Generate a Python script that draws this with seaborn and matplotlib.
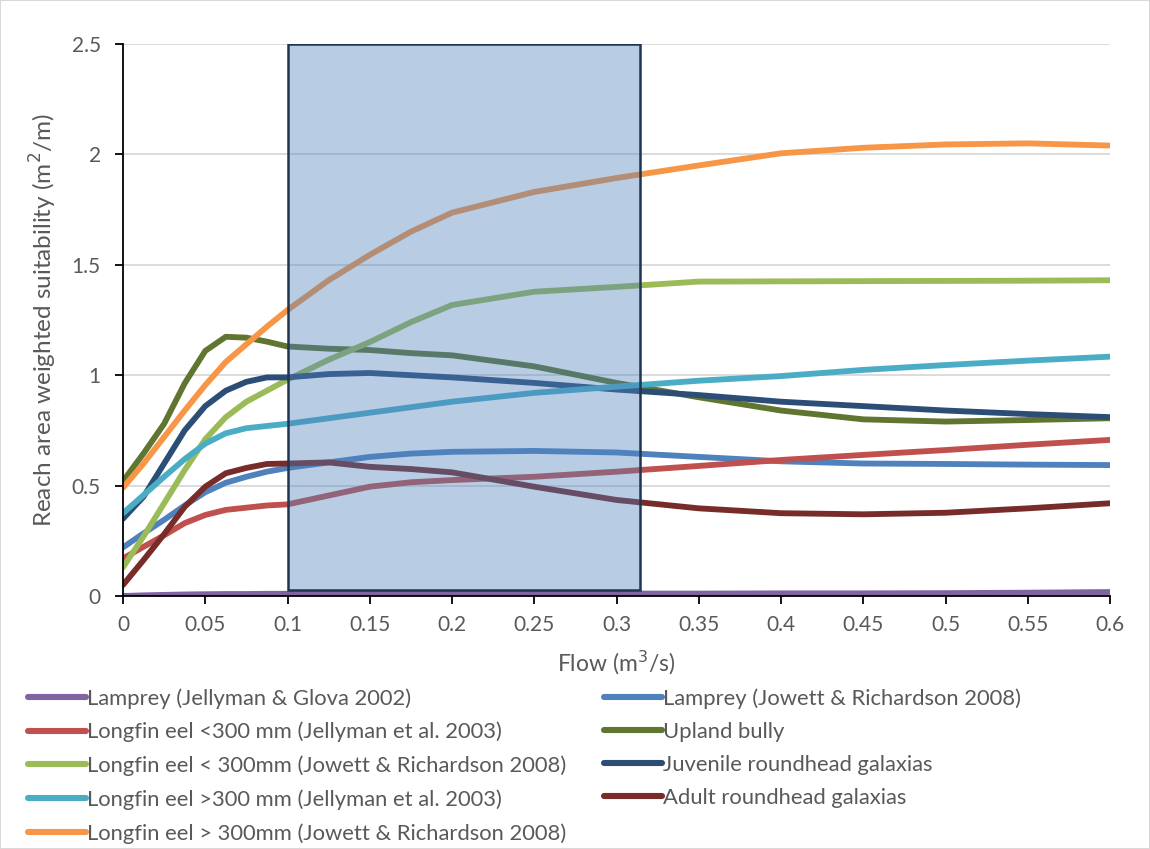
import matplotlib
matplotlib.use("Agg")
import matplotlib.pyplot as plt
import seaborn as sns
import numpy as np
import pandas as pd
from matplotlib.patches import Rectangle

# ---------------- data ----------------
flow = [0, 0.0125, 0.025, 0.0375, 0.05, 0.0625, 0.075, 0.0875, 0.1, 0.125, 0.15, 0.175,
        0.2, 0.25, 0.3, 0.35, 0.4, 0.45, 0.5, 0.55, 0.6]

lamprey_jg     = [0.00, 0.003, 0.005, 0.007, 0.008, 0.009, 0.009, 0.010, 0.010, 0.010, 0.010, 0.010,
                  0.010, 0.010, 0.011, 0.011, 0.012, 0.012, 0.013, 0.015, 0.018]
lamprey_jr     = [0.22, 0.284, 0.345, 0.41, 0.47, 0.513, 0.54, 0.563, 0.58, 0.605, 0.63, 0.645,
                  0.653, 0.657, 0.65, 0.63, 0.61, 0.60, 0.598, 0.595, 0.593]
longfin_lt_jel = [0.17, 0.223, 0.275, 0.33, 0.367, 0.39, 0.40, 0.41, 0.415, 0.455, 0.495, 0.515,
                  0.525, 0.54, 0.563, 0.589, 0.616, 0.639, 0.661, 0.685, 0.707]
upland_bully   = [0.52, 0.646, 0.78, 0.963, 1.11, 1.174, 1.17, 1.152, 1.13, 1.12, 1.114, 1.10,
                  1.09, 1.04, 0.965, 0.90, 0.84, 0.80, 0.79, 0.797, 0.805]
longfin_lt_jr  = [0.13, 0.27, 0.42, 0.57, 0.71, 0.81, 0.88, 0.93, 0.98, 1.07, 1.15, 1.24,
                  1.318, 1.378, 1.40, 1.424, 1.425, 1.426, 1.427, 1.428, 1.43]
juvenile_rg    = [0.35, 0.45, 0.60, 0.75, 0.86, 0.93, 0.97, 0.99, 0.99, 1.005, 1.01, 1.00,
                  0.99, 0.965, 0.935, 0.91, 0.88, 0.86, 0.84, 0.824, 0.81]
longfin_gt_jel = [0.375, 0.457, 0.54, 0.62, 0.69, 0.737, 0.76, 0.77, 0.78, 0.805, 0.83, 0.855,
                  0.88, 0.92, 0.948, 0.975, 0.996, 1.024, 1.046, 1.066, 1.084]
adult_rg       = [0.05, 0.163, 0.28, 0.404, 0.495, 0.556, 0.58, 0.598, 0.60, 0.605, 0.585, 0.575,
                  0.56, 0.495, 0.435, 0.397, 0.375, 0.37, 0.377, 0.397, 0.42]
longfin_gt_jr  = [0.49, 0.60, 0.72, 0.84, 0.955, 1.06, 1.14, 1.22, 1.295, 1.43, 1.545, 1.65,
                  1.736, 1.83, 1.893, 1.95, 2.005, 2.03, 2.045, 2.05, 2.04]

series_names = [
    "Lamprey (Jellyman & Glova 2002)",
    "Lamprey (Jowett & Richardson 2008)",
    "Longfin eel <300 mm (Jellyman et al. 2003)",
    "Upland bully",
    "Longfin eel < 300mm (Jowett & Richardson 2008)",
    "Juvenile roundhead galaxias",
    "Longfin eel >300 mm (Jellyman et al. 2003)",
    "Adult roundhead galaxias",
    "Longfin eel > 300mm (Jowett & Richardson 2008)",
]
series_values = [lamprey_jg, lamprey_jr, longfin_lt_jel, upland_bully, longfin_lt_jr,
                 juvenile_rg, longfin_gt_jel, adult_rg, longfin_gt_jr]
series_colors = ["#8064A2", "#4F81BD", "#C0504D", "#5F7530", "#9BBB59",
                 "#2C4D75", "#4BACC6", "#772C2A", "#F79646"]

# highlighted flow range
band_x = [0.1, 0.314]
band_y = [0.025, 2.5]

x_ticks = [0, 0.05, 0.1, 0.15, 0.2, 0.25, 0.3, 0.35, 0.4, 0.45, 0.5, 0.55, 0.6]
x_tick_labels = ["0", "0.05", "0.1", "0.15", "0.2", "0.25", "0.3", "0.35", "0.4", "0.45", "0.5", "0.55", "0.6"]
y_ticks = [0, 0.5, 1, 1.5, 2, 2.5]
y_tick_labels = ["0", "0.5", "1", "1.5", "2", "2.5"]

# ---------------- plotting ----------------
sns.set_theme(style="white")
plt.rcParams["font.family"] = ["Lato", "DejaVu Sans"]
grey = "#595959"

fig = plt.figure(figsize=(11.5, 8.49), dpi=100)
ax = fig.add_axes([123/1150, 1-596/849, (1110-123)/1150, (596-44)/849])

df = pd.DataFrame({
    "flow": np.tile(flow, len(series_names)),
    "value": np.concatenate(series_values),
    "series": np.repeat(series_names, len(flow)),
})

handles = {}
for name, col in zip(series_names, series_colors):
    sub = df[df["series"] == name]
    sns.lineplot(data=sub, x="flow", y="value", color=col, lw=4.2, ax=ax,
                 label=name, legend=False, solid_capstyle="round", solid_joinstyle="round")
    handles[name] = ax.lines[-1]

ax.add_patch(Rectangle((band_x[0], band_y[0]), band_x[1]-band_x[0], band_y[1]-band_y[0],
                       facecolor="#4F81BD", alpha=0.4, edgecolor="none", zorder=5))
ax.add_patch(Rectangle((band_x[0], band_y[0]), band_x[1]-band_x[0], band_y[1]-band_y[0],
                       facecolor="none", edgecolor="#1F3552", lw=1.8, zorder=6))

ax.set_xlim(0, 0.6)
ax.set_ylim(0, 2.5)
ax.set_xticks(x_ticks)
ax.set_xticklabels(x_tick_labels)
ax.set_yticks(y_ticks)
ax.set_yticklabels(y_tick_labels)
ax.yaxis.grid(True, color="#D9D9D9", lw=1.3)
ax.set_axisbelow(True)
for s in ["top", "right"]:
    ax.spines[s].set_visible(False)
for s in ["left", "bottom"]:
    ax.spines[s].set_color("black")
    ax.spines[s].set_linewidth(1.3)
ax.tick_params(axis="both", which="major", direction="out", length=6, width=1.3,
               color="black", labelsize=15, labelcolor=grey)
ax.tick_params(axis="y", pad=10)
ax.tick_params(axis="x", pad=8)
ax.tick_params(left=True, bottom=True)

ax.set_xlabel("Flow (m$^3$/s)", fontsize=16.5, color=grey, labelpad=10)
ax.set_ylabel("Reach area weighted suitability (m$^2$/m)", fontsize=17.5, color=grey, labelpad=9)

col1 = [series_names[i] for i in [0, 2, 4, 6, 8]]
col2 = [series_names[i] for i in [1, 3, 5, 7]]
common = dict(frameon=False, fontsize=15.8, handlelength=2.65, handletextpad=0.05,
              labelspacing=0.6, borderpad=0, borderaxespad=0, labelcolor=grey,
              loc="upper left")
leg1 = fig.legend([handles[n] for n in col1], col1, bbox_to_anchor=(28/1150, 1-688/849), **common)
leg2 = fig.legend([handles[n] for n in col2], col2, bbox_to_anchor=(604/1150, 1-688/849), **common)
for leg in (leg1, leg2):
    for ln in leg.get_lines():
        ln.set_linewidth(4.4)
        ln.set_solid_capstyle("round")

fig.patches.append(Rectangle((0, 0), 1, 1, transform=fig.transFigure, fill=False,
                             edgecolor="#D9D9D9", lw=1.5))

fig.savefig("out.png", dpi=100)
